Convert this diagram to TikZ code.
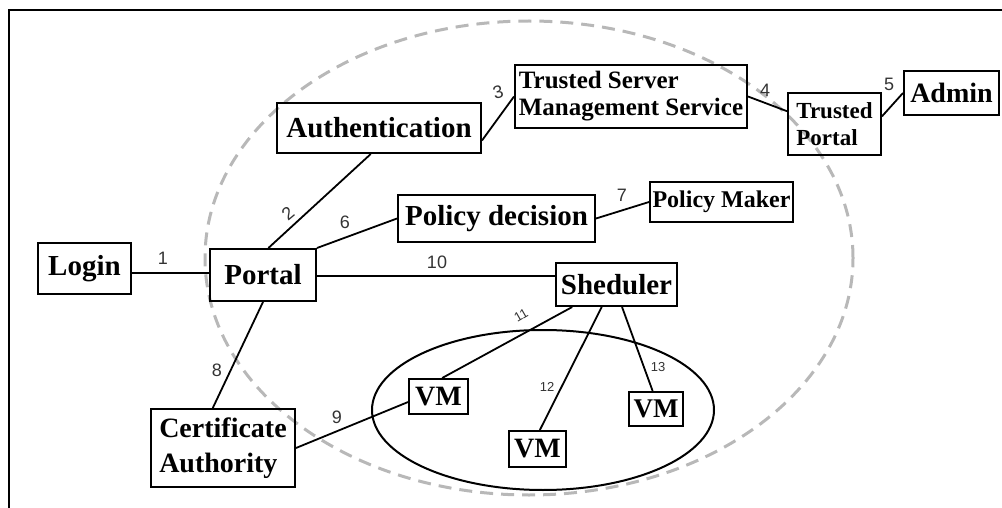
\documentclass[tikz,border=0pt]{standalone}
\usepackage{fontspec}
\setmainfont{Liberation Serif}
\newfontfamily\numfont{Liberation Sans}
\usetikzlibrary{calc}
\begin{document}
\begin{tikzpicture}[x=1pt,y=-1pt,
 box/.style={draw=black, line width=2pt, inner sep=0pt, align=center, font=\bfseries\fontsize{29}{33}\selectfont},
 link/.style={draw=black, line width=1.8pt},
 num/.style={font=\numfont\fontsize{18}{18}\selectfont, text=black!80, inner sep=0pt},
 numsmall/.style={num, font=\numfont\fontsize{13}{13}\selectfont},
 group/.style={draw=black, line width=2pt},
 zone/.style={draw=black!28, line width=3pt, dash pattern=on 13pt off 8pt}]
\useasboundingbox (0,0) rectangle (1002,508);
% frame
\draw[line width=2.5pt] (9,508) -- (9,10) -- (1002,10);
% zones
\draw[zone] (529,258) ellipse [x radius=324pt, y radius=237pt];
\draw[group] (543,410) ellipse [x radius=171pt, y radius=80pt];
% boxes
\node[box, minimum width=93pt, minimum height=51pt] (login) at (84.5,268.5) {Login};
\node[box, minimum width=106pt, minimum height=52pt] (portal) at (263,275) {Portal};
\node[box, minimum width=204pt, minimum height=50pt] (auth) at (379,128) {Authentication};
\node[box, align=left, minimum width=232pt, minimum height=63pt, font=\bfseries\fontsize{25}{27}\selectfont] (tsms) at (631,96.5) {Trusted Server\\Management Service};
\node[box, align=left, minimum width=93pt, minimum height=62pt, font=\bfseries\fontsize{23}{27}\selectfont] (tp) at (834.5,124) {Trusted\\Portal};
\node[box, minimum width=95pt, minimum height=44pt, font=\bfseries\fontsize{28}{33}\selectfont] (admin) at (951.5,93) {Admin};
\node[box, minimum width=197pt, minimum height=47pt] (pdec) at (496.5,218.5) {Policy decision};
\node[box, minimum width=143pt, minimum height=40pt, font=\bfseries\fontsize{24}{27}\selectfont] (pmak) at (721.5,202) {Policy Maker};
\node[box, minimum width=121pt, minimum height=43pt] (sched) at (616.5,284.5) {Sheduler};
\node[box, minimum width=59pt, minimum height=35pt, font=\bfseries\fontsize{28}{33}\selectfont] (vma) at (438.5,396.5) {VM};
\node[box, minimum width=57pt, minimum height=36pt, font=\bfseries\fontsize{28}{33}\selectfont] (vmb) at (537.5,449) {VM};
\node[box, minimum width=54pt, minimum height=34pt, font=\bfseries\fontsize{27}{33}\selectfont] (vmc) at (656,409) {VM};
\node[box, align=left, minimum width=144pt, minimum height=78pt, font=\bfseries\fontsize{28}{35}\selectfont] (ca) at (223,448) {Certificate\\Authority};
% connectors
\draw[link] (login.east |- 0,273) -- (portal.west |- 0,273);
\draw[link] ($(portal.north west)!0.55!(portal.north east)$) -- ($(auth.south west)!0.46!(auth.south east)$);
\draw[link] ($(auth.north east)!0.74!(auth.south east)$) -- (tsms.west);
\draw[link] (tsms.east) -- ($(tp.north west)!0.3!(tp.south west)$);
\draw[link] ($(tp.north east)!0.38!(tp.south east)$) -- (admin.west);
\draw[link] (portal.north east) -- (pdec.west);
\draw[link] (pdec.east) -- (pmak.west);
\draw[link] (portal.east |- 0,276) -- (sched.west |- 0,276);
\draw[link] (portal.south) -- ($(ca.north west)!0.43!(ca.north east)$);
\draw[link] (ca.east) -- ($(vma.north west)!0.65!(vma.south west)$);
\draw[link] ($(sched.south west)!0.14!(sched.south east)$) -- ($(vma.north west)!0.56!(vma.north east)$);
\draw[link] ($(sched.south west)!0.38!(sched.south east)$) -- ($(vmb.north west)!0.54!(vmb.north east)$);
\draw[link] ($(sched.south west)!0.545!(sched.south east)$) -- ($(vmc.north west)!0.44!(vmc.north east)$);
% labels
\node[num] (l1) at (163,258) {1};
\node[num, rotate=40] (l2) at (288,213) {2};
\node[num, rotate=15] (l3) at (498,92) {3};
\node[num] (l4) at (765,90) {4};
\node[num] (l5) at (889,84) {5};
\node[num] (l6) at (345,222) {6};
\node[num] (l7) at (622,195) {7};
\node[num] (l10) at (437,262) {10};
\node[num] (l8) at (217,370) {8};
\node[num] (l9) at (337,417) {9};
\node[numsmall, rotate=30] (l11) at (521,315) {11};
\node[numsmall] (l12) at (547,387) {12};
\node[numsmall] (l13) at (658,367) {13};
\end{tikzpicture}
\end{document}
